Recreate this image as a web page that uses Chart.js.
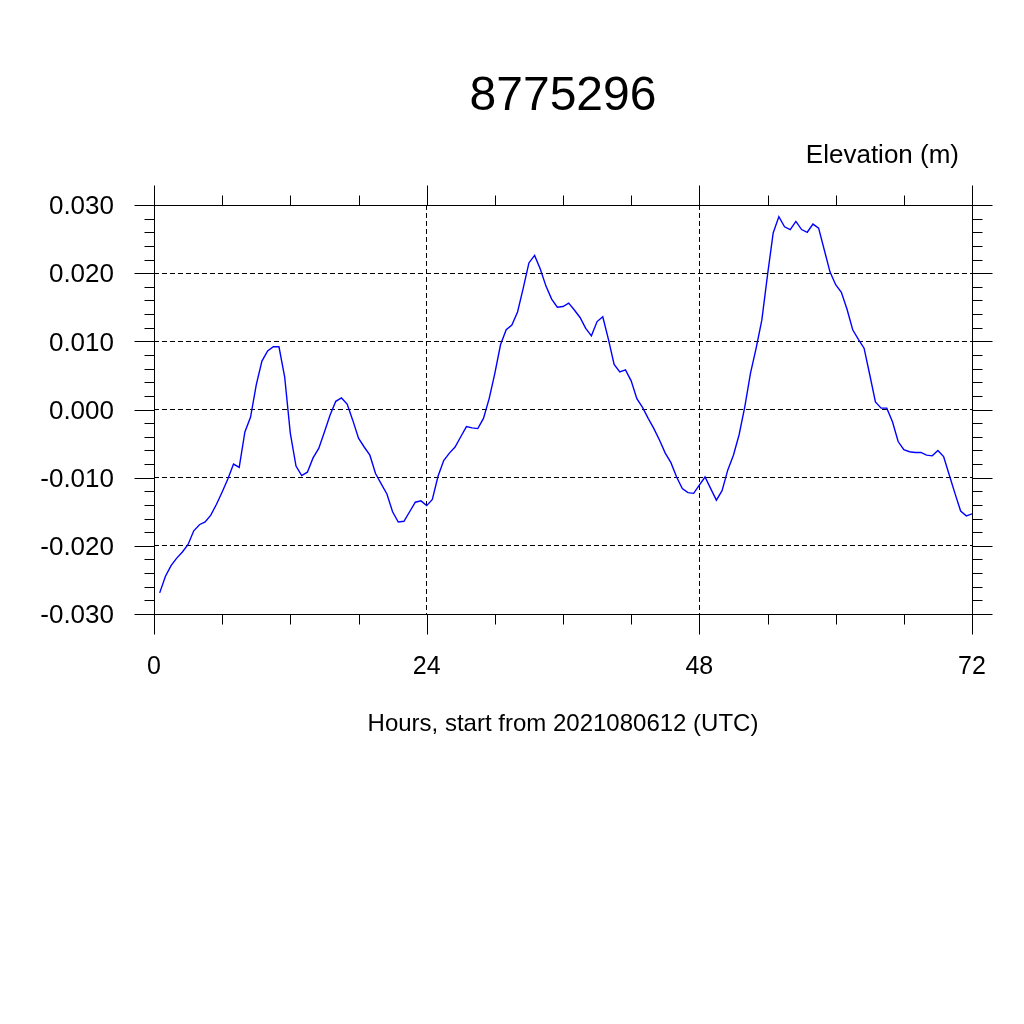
<!DOCTYPE html>
<html>
<head>
<meta charset="utf-8">
<script src="https://cdn.jsdelivr.net/npm/chart.js@4/dist/chart.umd.min.js"></script>
<style>
  html, body { margin: 0; padding: 0; background: #fff; }
  canvas { display: block; }
</style>
</head>
<body>
<canvas id="c" width="1024" height="1024"></canvas>
<script>
const STATION = '8775296';
const UNITS_LABEL = 'Elevation (m)';
const X_TITLE = 'Hours, start from 2021080612 (UTC)';

// half-hourly water level, first sample at hour 0.5
const elevation = [
  -0.0269, -0.0245, -0.0229, -0.0218, -0.0209, -0.0198, -0.0178, -0.0169, -0.0165, -0.0155,
  -0.0139, -0.0121, -0.0102, -0.0080, -0.0085, -0.0033, -0.0011, 0.0036, 0.0071, 0.0086,
  0.0092, 0.0092, 0.0048, -0.0035, -0.0083, -0.0097, -0.0092, -0.0071, -0.0057, -0.0033,
  -0.0008, 0.0012, 0.0017, 0.0008, -0.0016, -0.0042, -0.0055, -0.0067, -0.0094, -0.0109,
  -0.0124, -0.0150, -0.0165, -0.0164, -0.0150, -0.0136, -0.0134, -0.0141, -0.0132, -0.0098,
  -0.0075, -0.0064, -0.0055, -0.0040, -0.0025, -0.0027, -0.0028, -0.0013, 0.0016, 0.0053,
  0.0095, 0.0117, 0.0124, 0.0143, 0.0178, 0.0215, 0.0226, 0.0206, 0.0181, 0.0162,
  0.0150, 0.0151, 0.0156, 0.0146, 0.0135, 0.0119, 0.0108, 0.0129, 0.0136, 0.0103,
  0.0066, 0.0055, 0.0058, 0.0042, 0.0016, 0.0003, -0.0013, -0.0028, -0.0045, -0.0064,
  -0.0078, -0.0099, -0.0116, -0.0122, -0.0123, -0.0111, -0.0099, -0.0116, -0.0133, -0.0119,
  -0.0089, -0.0067, -0.0037, 0.0004, 0.0053, 0.0090, 0.0131, 0.0197, 0.0259, 0.0283,
  0.0268, 0.0264, 0.0276, 0.0264, 0.0260, 0.0272, 0.0266, 0.0234, 0.0202, 0.0183,
  0.0172, 0.0147, 0.0117, 0.0103, 0.0090, 0.0051, 0.0011, 0.0002, 0.0002, -0.0018,
  -0.0047, -0.0059, -0.0062, -0.0063, -0.0063, -0.0067, -0.0068, -0.0060, -0.0069, -0.0096,
  -0.0123, -0.0149, -0.0156, -0.0153,
];
const hours = elevation.map((_, i) => (i + 1) * 0.5);

const xMajor = [0, 24, 48, 72];
const xMinor = [6, 12, 18, 30, 36, 42, 54, 60, 66];
const yMajor = [-0.03, -0.02, -0.01, 0, 0.01, 0.02, 0.03];

const FONT = '"Liberation Sans", Arial, sans-serif';

// frame, outward tick marks and the free text around the plot
const decorations = {
  id: 'decorations',
  afterDraw(chart) {
    const { ctx, chartArea: a, scales } = chart;
    const xs = scales.x, ys = scales.y;
    const L = Math.round(a.left) + 0.5, R = Math.round(a.right) + 0.5;
    const T = Math.round(a.top) + 0.5, B = Math.round(a.bottom) + 0.5;
    ctx.save();
    ctx.strokeStyle = '#000';
    ctx.lineWidth = 1;
    ctx.setLineDash([]);
    ctx.strokeRect(L, T, R - L, B - T);

    const vt = (v, len) => {
      const px = Math.round(xs.getPixelForValue(v)) + 0.5;
      ctx.moveTo(px, B); ctx.lineTo(px, B + len);
      ctx.moveTo(px, T); ctx.lineTo(px, T - len);
    };
    const ht = (v, len) => {
      const py = Math.round(ys.getPixelForValue(v)) + 0.5;
      ctx.moveTo(L, py); ctx.lineTo(L - len, py);
      ctx.moveTo(R, py); ctx.lineTo(R + len, py);
    };
    ctx.beginPath();
    xMajor.forEach((v) => vt(v, 20));
    xMinor.forEach((v) => vt(v, 10));
    yMajor.forEach((v) => ht(v, 20));
    for (let k = -15; k <= 15; k++) {
      if (k % 5 !== 0) ht(k * 0.002, 10);
    }
    ctx.stroke();

    ctx.fillStyle = '#000';
    ctx.textBaseline = 'alphabetic';
    ctx.textAlign = 'center';
    ctx.font = '48px ' + FONT;
    ctx.fillText(STATION, (a.left + a.right) / 2, 110);
    ctx.textAlign = 'right';
    ctx.font = '26px ' + FONT;
    ctx.fillText(UNITS_LABEL, 959, 163);
    ctx.textAlign = 'center';
    ctx.font = '24px ' + FONT;
    ctx.fillText(X_TITLE, (a.left + a.right) / 2, 731);
    ctx.restore();
  },
};

new Chart(document.getElementById('c'), {
  type: 'line',
  data: {
    datasets: [{
      data: hours.map((h, i) => ({ x: h, y: elevation[i] })),
      borderColor: '#0000ff',
      borderWidth: 1.4,
      pointRadius: 0,
      tension: 0,
      fill: false,
    }],
  },
  options: {
    responsive: false,
    animation: false,
    devicePixelRatio: 1,
    layout: { padding: { left: 0, top: 205, right: 52, bottom: 310 } },
    plugins: { legend: { display: false }, tooltip: { enabled: false }, title: { display: false } },
    scales: {
      x: {
        type: 'linear',
        min: 0,
        max: 72,
        afterFit(s) { s.height = 100; },
        ticks: { stepSize: 24, padding: 38, color: '#000', font: { family: FONT, size: 25 }, maxRotation: 0 },
        grid: {
          drawTicks: false,
          color: (c) => (c.tick && (c.tick.value === 24 || c.tick.value === 48) ? '#000' : 'rgba(0,0,0,0)'),
          lineWidth: 1,
        },
        border: { display: false, dash: [5, 3] },
      },
      y: {
        min: -0.03,
        max: 0.03,
        afterFit(s) { s.width = 154; },
        ticks: {
          stepSize: 0.01,
          padding: 40,
          labelOffset: 2,
          color: '#000',
          font: { family: FONT, size: 26 },
          callback: (v) => (Math.abs(v) < 1e-9 ? '0.000' : Number(v).toFixed(3)),
        },
        grid: { drawTicks: false, color: '#000', lineWidth: 1 },
        border: { display: false, dash: [5, 3] },
      },
    },
  },
  plugins: [decorations],
});
</script>
</body>
</html>
